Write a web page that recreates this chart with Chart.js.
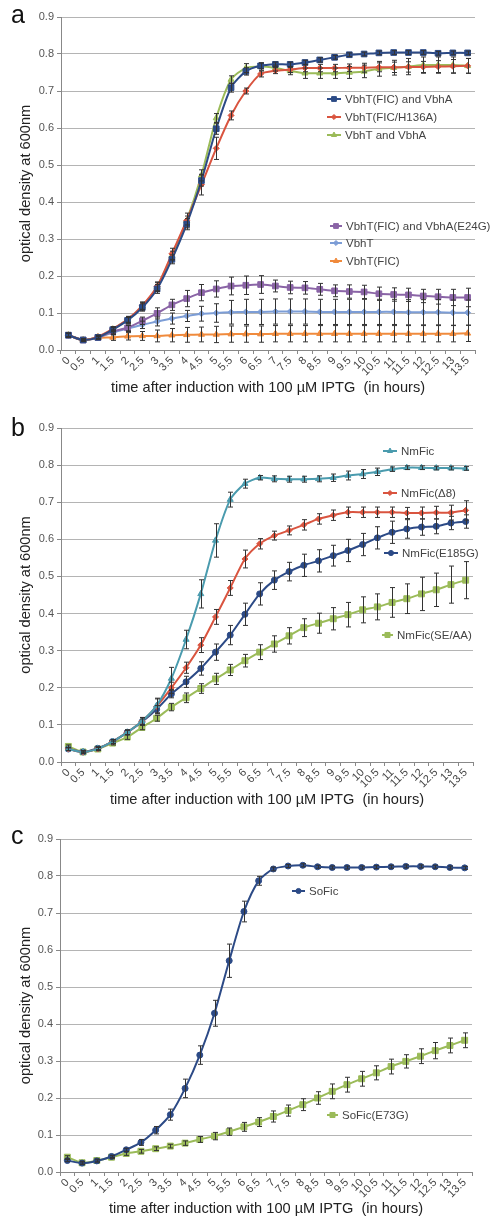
<!DOCTYPE html>
<html><head><meta charset="utf-8">
<script src="https://cdn.jsdelivr.net/npm/chart.js@4.4.0/dist/chart.umd.min.js"></script>
<style>
html,body{margin:0;padding:0;background:#fff;}
body{width:491px;height:1219px;position:relative;overflow:hidden;}
canvas{position:absolute;left:0;}
</style></head><body>
<canvas id="ca" width="491" height="400" style="top:0px"></canvas>
<canvas id="cb" width="491" height="410" style="top:400px"></canvas>
<canvas id="cc" width="491" height="409" style="top:810px"></canvas>
<script>
// ---------- DATA ----------
const categories = ['0','0.5','1','1.5','2','2.5','3','3.5','4','4.5','5','5.5','6','6.5','7','7.5','8','8.5','9','9.5','10','10.5','11','11.5','12','12.5','13','13.5'];
const yTickLabels = ['0.0','0.1','0.2','0.3','0.4','0.5','0.6','0.7','0.8','0.9'];

// panel a
const a_FIC_VbhA  = [0.040,0.027,0.034,0.055,0.080,0.115,0.165,0.245,0.340,0.458,0.598,0.709,0.753,0.768,0.772,0.772,0.777,0.784,0.791,0.798,0.800,0.803,0.804,0.804,0.804,0.802,0.803,0.803];
const a_H136A     = [0.040,0.027,0.036,0.057,0.083,0.120,0.172,0.260,0.350,0.447,0.545,0.634,0.700,0.746,0.755,0.758,0.762,0.762,0.762,0.763,0.763,0.764,0.764,0.765,0.765,0.766,0.767,0.768];
const a_VbhT_VbhA = [0.040,0.027,0.035,0.056,0.082,0.118,0.170,0.255,0.350,0.472,0.627,0.731,0.762,0.766,0.762,0.754,0.748,0.748,0.748,0.750,0.753,0.760,0.763,0.766,0.770,0.770,0.770,0.768];
const a_E24G      = [0.040,0.027,0.034,0.050,0.060,0.079,0.099,0.122,0.139,0.155,0.165,0.173,0.175,0.177,0.173,0.169,0.168,0.164,0.160,0.158,0.157,0.152,0.150,0.149,0.146,0.144,0.142,0.142];
const a_VbhT      = [0.040,0.027,0.034,0.047,0.058,0.068,0.077,0.085,0.092,0.098,0.100,0.102,0.103,0.103,0.104,0.104,0.104,0.103,0.103,0.103,0.103,0.103,0.103,0.102,0.102,0.102,0.101,0.101];
const a_FIC       = [0.040,0.027,0.033,0.034,0.037,0.038,0.038,0.040,0.041,0.042,0.042,0.043,0.043,0.043,0.044,0.044,0.044,0.044,0.044,0.044,0.044,0.044,0.044,0.044,0.044,0.044,0.044,0.045];
const ea_FIC_VbhA  = [0.005,0.003,0.004,0.006,0.008,0.010,0.012,0.012,0.015,0.015,0.015,0.012,0.010,0.008,0.006,0.006,0.006,0.006,0.005,0.005,0.005,0.005,0.005,0.005,0.005,0.005,0.005,0.005];
const ea_H136A     = [0.005,0.003,0.004,0.006,0.008,0.010,0.012,0.015,0.020,0.028,0.030,0.012,0.008,0.008,0.008,0.008,0.010,0.010,0.010,0.010,0.012,0.012,0.014,0.014,0.015,0.016,0.018,0.020];
const ea_VbhT_VbhA = [0.005,0.003,0.004,0.006,0.008,0.010,0.012,0.012,0.012,0.015,0.012,0.010,0.012,0.010,0.008,0.010,0.014,0.014,0.014,0.016,0.017,0.020,0.020,0.022,0.022,0.022,0.022,0.020];
const ea_E24G      = [0.005,0.003,0.004,0.006,0.008,0.010,0.015,0.015,0.022,0.022,0.022,0.024,0.025,0.024,0.016,0.017,0.017,0.016,0.016,0.018,0.018,0.018,0.018,0.018,0.018,0.020,0.022,0.025];
const ea_VbhT      = [0.005,0.003,0.004,0.006,0.008,0.010,0.012,0.015,0.015,0.020,0.025,0.032,0.034,0.034,0.034,0.034,0.034,0.034,0.034,0.034,0.034,0.034,0.034,0.034,0.034,0.034,0.034,0.034];
const ea_FIC       = [0.005,0.003,0.004,0.008,0.010,0.012,0.016,0.018,0.020,0.020,0.022,0.022,0.022,0.022,0.022,0.022,0.022,0.022,0.022,0.022,0.022,0.022,0.022,0.022,0.022,0.022,0.022,0.022];

// panel b
const b_NmFic = [0.035,0.027,0.036,0.055,0.080,0.110,0.152,0.225,0.330,0.453,0.597,0.707,0.750,0.766,0.763,0.762,0.762,0.763,0.766,0.772,0.776,0.782,0.789,0.793,0.793,0.792,0.792,0.791];
const b_D8    = [0.035,0.027,0.036,0.055,0.080,0.110,0.150,0.200,0.254,0.315,0.391,0.469,0.547,0.588,0.610,0.624,0.639,0.655,0.665,0.673,0.673,0.673,0.673,0.671,0.671,0.672,0.672,0.678];
const b_E185G = [0.035,0.027,0.037,0.055,0.080,0.108,0.142,0.183,0.216,0.252,0.296,0.342,0.398,0.453,0.490,0.513,0.530,0.542,0.556,0.570,0.586,0.604,0.619,0.628,0.633,0.635,0.644,0.648];
const b_SEAA  = [0.042,0.027,0.035,0.051,0.067,0.093,0.118,0.148,0.173,0.198,0.224,0.248,0.273,0.296,0.318,0.340,0.362,0.374,0.386,0.397,0.410,0.418,0.430,0.440,0.453,0.464,0.478,0.490];
const eb_NmFic = [0.004,0.003,0.004,0.005,0.006,0.010,0.020,0.030,0.025,0.038,0.045,0.020,0.012,0.006,0.008,0.008,0.008,0.008,0.010,0.012,0.012,0.010,0.006,0.005,0.005,0.005,0.005,0.005];
const eb_D8    = [0.004,0.003,0.004,0.005,0.006,0.010,0.020,0.015,0.015,0.020,0.020,0.020,0.024,0.014,0.012,0.012,0.014,0.014,0.014,0.014,0.014,0.014,0.014,0.015,0.016,0.017,0.020,0.026];
const eb_E185G = [0.004,0.003,0.004,0.005,0.006,0.008,0.010,0.010,0.015,0.018,0.022,0.026,0.030,0.030,0.025,0.025,0.030,0.030,0.028,0.030,0.030,0.030,0.030,0.025,0.022,0.020,0.018,0.018];
const eb_SEAA  = [0.004,0.003,0.004,0.005,0.006,0.006,0.008,0.010,0.013,0.013,0.015,0.015,0.017,0.020,0.022,0.022,0.024,0.027,0.030,0.033,0.035,0.035,0.040,0.040,0.045,0.045,0.050,0.050];

// panel c
const c_SoFic = [0.031,0.024,0.030,0.042,0.060,0.080,0.113,0.155,0.226,0.316,0.429,0.571,0.704,0.787,0.819,0.827,0.829,0.825,0.823,0.823,0.823,0.824,0.825,0.826,0.826,0.825,0.823,0.822];
const c_E73G  = [0.040,0.025,0.031,0.040,0.050,0.056,0.063,0.070,0.078,0.088,0.097,0.109,0.122,0.135,0.150,0.166,0.182,0.200,0.218,0.236,0.252,0.268,0.285,0.299,0.313,0.328,0.342,0.356];
const ec_SoFic = [0.003,0.003,0.003,0.003,0.004,0.008,0.010,0.015,0.025,0.025,0.035,0.045,0.028,0.012,0.005,0.004,0.004,0.004,0.004,0.004,0.004,0.004,0.004,0.004,0.004,0.004,0.004,0.004];
const ec_E73G  = [0.004,0.004,0.004,0.004,0.005,0.005,0.005,0.005,0.006,0.008,0.010,0.010,0.012,0.012,0.015,0.015,0.016,0.017,0.020,0.020,0.020,0.019,0.020,0.018,0.020,0.022,0.020,0.020];

// ---------- STYLE / PLUGINS ----------
const FAMILY = '"Liberation Sans", Arial, sans-serif';
Chart.defaults.font.family = FAMILY;
Chart.defaults.devicePixelRatio = 1;

const errorBars = {
  id: 'errorBars',
  afterDatasetsDraw(chart) {
    const {ctx, scales: {x, y}} = chart;
    ctx.save();
    ctx.strokeStyle = '#333';
    ctx.lineWidth = 1;
    chart.data.datasets.forEach(ds => {
      if (!ds.errors) return;
      ds.data.forEach((v, i) => {
        const e = ds.errors[i];
        const px = Math.round(x.getPixelForValue(i)) + 0.5;
        const yt = y.getPixelForValue(v + e), yb = y.getPixelForValue(v - e);
        ctx.beginPath();
        ctx.moveTo(px, yt); ctx.lineTo(px, yb);
        ctx.moveTo(px - 2.5, yt); ctx.lineTo(px + 2.5, yt);
        ctx.moveTo(px - 2.5, yb); ctx.lineTo(px + 2.5, yb);
        ctx.stroke();
      });
    });
    ctx.restore();
  }
};

const insetLegend = {
  id: 'insetLegend',
  afterDraw(chart, args, opts) {
    const ctx = chart.ctx;
    (opts.items || []).forEach(it => {
      const ds = chart.data.datasets[it.index];
      ctx.save();
      ctx.strokeStyle = ds.borderColor; ctx.lineWidth = 2;
      ctx.beginPath(); ctx.moveTo(it.x, it.y); ctx.lineTo(it.x + it.w, it.y); ctx.stroke();
      ctx.fillStyle = ds.backgroundColor; ctx.strokeStyle = ds.borderColor; ctx.lineWidth = 1;
      Chart.helpers.drawPoint(ctx, {pointStyle: ds.pointStyle, radius: ds.pointRadius * 0.85, rotation: 0, borderWidth: 1}, it.x + it.w / 2, it.y);
      ctx.fillStyle = '#444';
      ctx.font = '11.5px ' + FAMILY;
      ctx.textBaseline = 'middle'; ctx.textAlign = 'left';
      ctx.fillText(ds.label, it.x + it.w + 4, it.y + 0.5);
      ctx.restore();
    });
  }
};

const panelLetter = {
  id: 'panelLetter',
  afterDraw(chart, args, opts) {
    const ctx = chart.ctx;
    ctx.save();
    ctx.fillStyle = '#111';
    ctx.font = '25px ' + FAMILY;
    ctx.textBaseline = 'alphabetic'; ctx.textAlign = 'left';
    ctx.fillText(opts.text, opts.x, opts.y);
    ctx.restore();
  }
};

function ds(label, data, errors, color, style, radius) {
  return {label, data, errors, borderColor: color, backgroundColor: color,
    pointStyle: style, pointRadius: radius, pointBorderWidth: 1, pointHoverRadius: radius,
    borderWidth: 2, tension: 0.25, fill: false};
}

function makePanel(id, datasets, lay) {
  return new Chart(document.getElementById(id), {
    type: 'line',
    data: {labels: categories, datasets},
    plugins: [errorBars, insetLegend, panelLetter],
    options: {
      responsive: false, animation: false, devicePixelRatio: 1,
      layout: {padding: {top: lay.top, right: lay.right, left: 0, bottom: 0}},
      plugins: {legend: {display: false}, tooltip: {enabled: false},
        insetLegend: {items: lay.legend}, panelLetter: lay.letter},
      scales: {
        x: {
          type: 'category', offset: true,
          grid: {display: true, drawOnChartArea: false, offset: true, tickLength: 4, color: '#888'},
          border: {display: true, color: '#888'},
          ticks: {autoSkip: false, minRotation: 45, maxRotation: 45, padding: 0, color: '#444', font: {size: 11}},
          title: {display: true, text: 'time after induction with 100 µM IPTG  (in hours)', color: '#222', font: {size: 14.6}, padding: {top: 0, bottom: lay.titleBottom}},
          afterFit(s) { s.height = lay.xHeight; }
        },
        y: {
          min: 0, max: 0.9,
          ticks: {stepSize: 0.1, color: '#555', font: {size: 11}, padding: 3,
            callback: (v, i) => yTickLabels[Math.round(v * 10)]},
          grid: {color: '#b4b4b4', tickLength: 4, tickColor: '#888'},
          border: {display: true, color: '#888'},
          title: {display: true, text: 'optical density at 600nm', color: '#222', font: {size: 14.6}, padding: {top: 17, bottom: 0}},
          afterFit(s) { s.width = lay.yWidth; }
        }
      }
    }
  });
}

makePanel('ca', [
  ds('VbhT(FIC) and VbhA', a_FIC_VbhA, ea_FIC_VbhA, '#2C4A86', 'rect', 4),
  ds('VbhT(FIC/H136A)', a_H136A, ea_H136A, '#D9543F', 'rectRot', 3),
  ds('VbhT and VbhA', a_VbhT_VbhA, ea_VbhT_VbhA, '#9BBB59', 'triangle', 3.5),
  ds('VbhT(FIC) and VbhA(E24G)', a_E24G, ea_E24G, '#8A64A6', 'rect', 4),
  ds('VbhT', a_VbhT, ea_VbhT, '#7C9DD6', 'rectRot', 3),
  ds('VbhT(FIC)', a_FIC, ea_FIC, '#F08A3C', 'triangle', 3.5)
], {top: 17, right: 16, xHeight: 50, yWidth: 61, titleBottom: 3.2,
  letter: {text: 'a', x: 11, y: 23},
  legend: [
    {index: 0, x: 327, y: 99, w: 14},
    {index: 1, x: 327, y: 117, w: 14},
    {index: 2, x: 327, y: 135, w: 14},
    {index: 3, x: 330, y: 226, w: 12},
    {index: 4, x: 330, y: 243, w: 12},
    {index: 5, x: 330, y: 261, w: 12}
  ]});

makePanel('cb', [
  ds('NmFic', b_NmFic, eb_NmFic, '#4A9BAE', 'triangle', 3.5),
  ds('NmFic(Δ8)', b_D8, eb_D8, '#D9543F', 'rectRot', 3),
  ds('NmFic(E185G)', b_E185G, eb_E185G, '#2C4A86', 'circle', 3),
  ds('NmFic(SE/AA)', b_SEAA, eb_SEAA, '#9BBB59', 'rect', 4.2)
], {top: 28, right: 18, xHeight: 48, yWidth: 61, titleBottom: 1.2,
  letter: {text: 'b', x: 11, y: 36},
  legend: [
    {index: 0, x: 383, y: 51, w: 14},
    {index: 1, x: 383, y: 93, w: 14},
    {index: 2, x: 384, y: 153, w: 14},
    {index: 3, x: 382, y: 235, w: 11}
  ]});

makePanel('cc', [
  ds('SoFic', c_SoFic, ec_SoFic, '#2C4A86', 'circle', 3),
  ds('SoFic(E73G)', c_E73G, ec_E73G, '#9BBB59', 'rect', 4.2)
], {top: 29, right: 19, xHeight: 47, yWidth: 60, titleBottom: 1.2,
  letter: {text: 'c', x: 11, y: 34},
  legend: [
    {index: 0, x: 292, y: 81, w: 13},
    {index: 1, x: 327, y: 305, w: 11}
  ]});
</script>
</body></html>
